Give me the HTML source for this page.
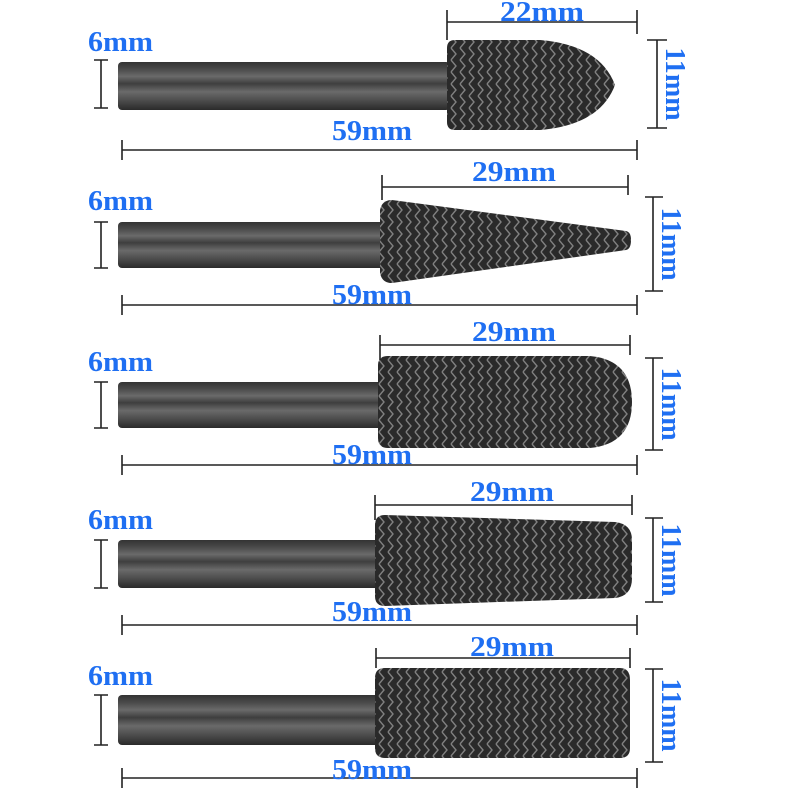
<!DOCTYPE html>
<html><head><meta charset="utf-8"><style>
html,body{margin:0;padding:0;background:#fff;}
svg{display:block}
text{font-family:"Liberation Serif",serif;font-weight:bold;fill:#1f6ff2;font-size:28px}
</style></head><body>
<svg width="800" height="800" viewBox="0 0 800 800" xmlns="http://www.w3.org/2000/svg">
<defs>
<linearGradient id="sh" x1="0" y1="0" x2="0" y2="1">
<stop offset="0" stop-color="#333"/><stop offset="0.15" stop-color="#4a4a4a"/><stop offset="0.3" stop-color="#6a6a6a"/><stop offset="0.45" stop-color="#3e3e3e"/><stop offset="0.62" stop-color="#6a6a6a"/><stop offset="0.85" stop-color="#444"/><stop offset="1" stop-color="#2a2a2a"/>
</linearGradient>
<pattern id="kn" width="9" height="12" patternUnits="userSpaceOnUse">
<rect width="9" height="12" fill="#2a2a2a"/>
<path d="M1 0 L6 6 L1 12" stroke="#808080" stroke-width="1.4" fill="none"/>
</pattern>
</defs>

<!-- Row 1 -->
<rect x="118" y="62" width="332" height="48" rx="4" fill="url(#sh)"/>
<path d="M447 48 Q447 40 455 40 L540 40 Q600 45 615 85 Q600 125 540 130 L455 130 Q447 130 447 122 Z" fill="url(#kn)"/>
<!-- Row 2 -->
<rect x="118" y="222" width="266" height="46" rx="4" fill="url(#sh)"/>
<path d="M380 210 Q382 200 392 200 L626 231 Q631 232 631 240 Q631 249 626 250 L392 283 Q382 283 380 273 Z" fill="url(#kn)"/>
<!-- Row 3 -->
<rect x="118" y="382" width="264" height="46" rx="4" fill="url(#sh)"/>
<path d="M378 365 Q378 356 388 356 L590 356 Q632 360 632 402 Q632 444 590 448 L388 448 Q378 448 378 438 Z" fill="url(#kn)"/>
<!-- Row 4 -->
<rect x="118" y="540" width="262" height="48" rx="4" fill="url(#sh)"/>
<path d="M375 525 Q375 515 385 515 L615 522 Q632 524 632 540 L632 578 Q632 596 615 598 L385 606 Q375 606 375 596 Z" fill="url(#kn)"/>
<!-- Row 5 -->
<rect x="118" y="695" width="262" height="50" rx="4" fill="url(#sh)"/>
<path d="M375 678 Q375 668 385 668 L620 668 Q630 668 630 680 L630 748 Q630 758 620 758 L385 758 Q375 758 375 748 Z" fill="url(#kn)"/>

<g stroke="#222" stroke-width="1.6" fill="none">
<path d="M94 60H108M101 60V108M94 108H108"/>
<path d="M94 222H108M101 222V268M94 268H108"/>
<path d="M94 382H108M101 382V428M94 428H108"/>
<path d="M94 540H108M101 540V588M94 588H108"/>
<path d="M94 695H108M101 695V745M94 745H108"/>
<path d="M447 10V40M447 22H637M637 10V34"/>
<path d="M382 175V200M382 187H628M628 175V195"/>
<path d="M380 335V360M380 345H630M630 335V355"/>
<path d="M375 495V520M375 505H632M632 495V515"/>
<path d="M376 648V668M376 658H630M630 648V668"/>
<path d="M647 40H667M657 40V128M647 128H667"/>
<path d="M645 197H663M653 197V291M645 291H663"/>
<path d="M645 358H663M653 358V450M645 450H663"/>
<path d="M645 518H663M653 518V602M645 602H663"/>
<path d="M645 669H663M653 669V762M645 762H663"/>
<path d="M122 140V160M122 150H637M637 140V160"/>
<path d="M122 295V315M122 305H637M637 295V315"/>
<path d="M122 455V475M122 465H637M637 455V475"/>
<path d="M122 615V635M122 625H637M637 615V635"/>
<path d="M122 768V788M122 778H637M637 768V788"/>
</g>

<g>
<text x="88" y="51" textLength="65" lengthAdjust="spacingAndGlyphs">6mm</text>
<text x="88" y="210" textLength="65" lengthAdjust="spacingAndGlyphs">6mm</text>
<text x="88" y="371" textLength="65" lengthAdjust="spacingAndGlyphs">6mm</text>
<text x="88" y="529" textLength="65" lengthAdjust="spacingAndGlyphs">6mm</text>
<text x="88" y="685" textLength="65" lengthAdjust="spacingAndGlyphs">6mm</text>
<text x="500" y="21" textLength="84" lengthAdjust="spacingAndGlyphs">22mm</text>
<text x="472" y="181" textLength="84" lengthAdjust="spacingAndGlyphs">29mm</text>
<text x="472" y="341" textLength="84" lengthAdjust="spacingAndGlyphs">29mm</text>
<text x="470" y="501" textLength="84" lengthAdjust="spacingAndGlyphs">29mm</text>
<text x="470" y="656" textLength="84" lengthAdjust="spacingAndGlyphs">29mm</text>
<text x="332" y="140" textLength="80" lengthAdjust="spacingAndGlyphs">59mm</text>
<text x="332" y="304" textLength="80" lengthAdjust="spacingAndGlyphs">59mm</text>
<text x="332" y="464" textLength="80" lengthAdjust="spacingAndGlyphs">59mm</text>
<text x="332" y="621" textLength="80" lengthAdjust="spacingAndGlyphs">59mm</text>
<text x="332" y="779" textLength="80" lengthAdjust="spacingAndGlyphs">59mm</text>
<text transform="translate(666,84) rotate(90)" text-anchor="middle">11mm</text>
<text transform="translate(662,244) rotate(90)" text-anchor="middle">11mm</text>
<text transform="translate(662,404) rotate(90)" text-anchor="middle">11mm</text>
<text transform="translate(662,560) rotate(90)" text-anchor="middle">11mm</text>
<text transform="translate(662,715) rotate(90)" text-anchor="middle">11mm</text>
</g>
</svg>
</body></html>
